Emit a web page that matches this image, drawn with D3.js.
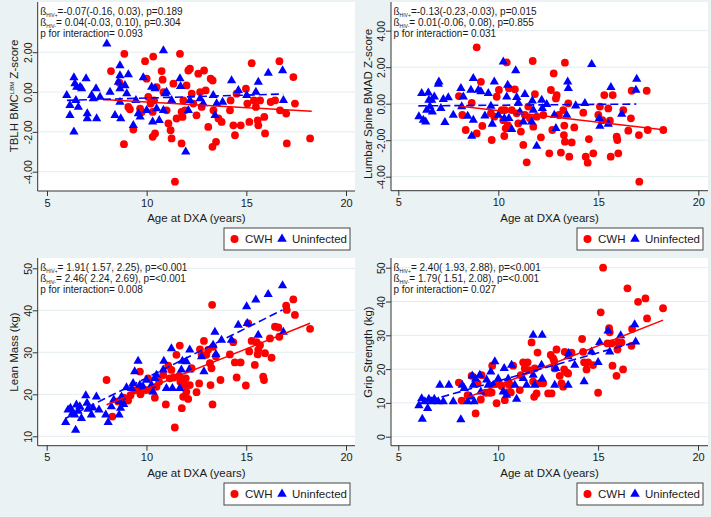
<!DOCTYPE html>
<html><head><meta charset="utf-8">
<script src="https://cdn.jsdelivr.net/npm/d3@7"></script>
<style>body{margin:0;background:#eaf2f3} svg{display:block} text{font-family:"Liberation Sans",Arial,sans-serif;fill:#1a1a1a}</style>
</head><body><svg id="c" width="711" height="517"></svg>
<script>
// ---------- DATA ----------
const xTicks = [5, 10, 15, 20];
const bmcTicks = [-4, -2, 0, 2];
const bmadTicks = [-4, -2, 0, 2, 4];
const leanTicks = [10, 20, 30, 40, 50];
const gripTicks = [0, 10, 20, 30, 40, 50];
const legendLabels = ["CWH", "Uninfected"];
const xTitle = "Age at DXA (years)";

// TBLH BMC Z-score
const bmcCWH = [[8.21,1.05],[8.88,1.92],[8.63,0.47],[9.08,-0.75],[9.16,-0.87],[8.86,-2.62],[9.33,-1.88],[9.67,-0.83],[9.75,-1.0],[9.92,1.55],[10.0,0.67],[10.08,-0.25],[10.2,-0.58],[10.3,-1.0],[10.33,1.78],[10.37,-0.42],[10.3,-2.25],[10.42,-2.08],[10.5,0.25],[10.75,1.05],[10.8,0.62],[10.84,0.0],[11.0,-0.92],[11.09,-1.58],[11.2,-1.92],[11.25,-2.33],[11.34,0.42],[11.42,-4.5],[11.5,-1.33],[11.67,1.92],[11.75,-2.58],[11.8,-1.25],[11.84,-0.42],[11.92,-0.92],[12.0,0.33],[12.09,1.08],[12.17,1.17],[12.26,-0.08],[12.34,-0.58],[12.5,-1.17],[12.59,0.92],[12.68,0.0],[12.76,-0.75],[12.88,1.08],[12.96,0.08],[13.09,-1.75],[13.21,0.67],[13.31,0.58],[13.3,-2.75],[13.35,-0.92],[13.48,-2.5],[13.6,-1.33],[13.76,-1.5],[14.18,-0.92],[14.21,-0.42],[14.35,-1.67],[14.43,-2.17],[14.51,-0.08],[14.72,-1.67],[14.98,0.17],[15.05,-0.58],[15.15,-1.5],[15.27,1.45],[15.38,-0.42],[15.48,-0.75],[15.57,-1.42],[15.6,-1.67],[15.69,-0.42],[15.9,-1.25],[15.94,-2.08],[16.22,-0.5],[16.44,-0.42],[16.66,1.55],[16.69,-0.92],[17.0,-1.08],[17.03,-2.58],[17.36,0.75],[17.44,-0.58],[18.2,-2.33],[11.75,-1.0]];
const bmcUninf = [[6.35,0.72],[6.4,0.42],[6.49,0.25],[5.99,-0.17],[6.15,-0.67],[6.15,-1.17],[6.35,-2.0],[6.45,-0.42],[6.57,-0.75],[6.66,0.25],[6.74,0.17],[6.96,0.67],[7.02,-1.08],[7.02,-1.33],[7.24,-0.17],[7.32,-0.33],[7.46,0.17],[7.49,-1.33],[7.66,-0.25],[8.0,2.42],[8.16,0.0],[8.41,-1.17],[8.58,0.5],[8.66,1.33],[8.66,0.83],[8.66,0.17],[8.66,-0.5],[8.7,-1.33],[8.91,0.33],[9.0,-0.08],[9.08,0.88],[9.33,-1.67],[9.46,-0.42],[9.58,-1.08],[9.67,-1.25],[9.83,0.72],[10.0,-0.92],[10.25,0.25],[10.3,-1.5],[10.42,0.17],[10.5,-0.83],[10.63,-1.42],[10.84,2.08],[10.84,-0.92],[10.92,-0.08],[11.0,0.0],[11.25,-0.42],[11.67,0.67],[11.7,0.28],[11.96,-3.0],[12.09,-0.92],[12.17,-0.42],[12.68,-0.33],[12.84,-0.58],[13.34,-0.17],[13.43,-1.17],[13.51,-0.58],[13.81,-0.5],[14.26,0.58],[14.6,0.08],[15.02,-0.17],[15.48,0.0],[15.6,0.5],[16.1,0.95],[16.82,1.08],[16.86,-0.42]];
const bmcFitCWH = [[7.8,-0.37],[18.28,-0.97]];
const bmcFitUninf = [[6.0,-0.42],[16.85,-0.1]];
const bmcNotes = [["=-0.07(-0.16, 0.03), p=0.189"],["= 0.04(-0.03, 0.10), p=0.304"],["p for interaction= 0.093"]];

// Lumbar spine BMAD Z-score
const bmadCWH = [[8.03,0.42],[8.2,-0.62],[8.37,-1.44],[8.67,0.05],[8.92,3.09],[8.92,-1.63],[9.13,1.2],[9.2,-1.22],[9.63,-0.53],[9.67,-1.99],[9.8,-0.71],[9.92,0.38],[10.03,0.75],[10.17,-0.35],[10.25,-0.9],[10.33,-0.35],[10.3,-1.77],[10.37,-1.35],[10.42,2.26],[10.47,-1.17],[10.53,0.84],[10.67,-0.35],[10.83,0.79],[10.92,-0.53],[11.0,-1.08],[11.13,-1.53],[11.25,-2.26],[11.33,-0.62],[11.42,-3.21],[11.5,-0.16],[11.58,-0.8],[11.72,2.34],[11.75,-1.26],[11.83,0.53],[11.92,-0.71],[12.13,-1.84],[12.25,-0.62],[12.55,-2.72],[12.63,0.75],[12.7,-1.44],[12.77,1.66],[12.88,0.29],[12.92,0.47],[13.03,-0.62],[13.13,-2.68],[13.25,-0.35],[13.28,-1.72],[13.3,-1.2],[13.33,2.25],[13.33,-2.08],[13.5,0.02],[13.55,-2.9],[13.67,-2.12],[13.8,-1.3],[14.25,-0.49],[14.37,-2.9],[14.47,-3.23],[14.53,-1.94],[14.75,-2.72],[15.0,-0.62],[15.08,-0.16],[15.2,-0.9],[15.3,0.47],[15.5,-0.26],[15.58,-0.93],[15.62,-2.9],[15.72,0.47],[15.92,-1.81],[15.95,-1.99],[16.0,-2.72],[16.25,-0.35],[16.5,-1.48],[16.63,-0.8],[16.67,0.71],[17.03,-1.72],[17.05,-4.27],[17.42,0.71],[17.47,-1.44],[18.25,-1.44]];
const bmadUninf = [[6.03,-0.71],[6.17,0.57],[6.25,-0.9],[6.37,-0.99],[6.42,-0.35],[6.5,0.6],[6.53,0.2],[6.58,-0.16],[6.67,0.2],[6.7,-0.44],[6.8,0.38],[7.0,1.08],[7.03,1.2],[7.13,-0.26],[7.25,0.24],[7.33,-1.02],[7.5,0.33],[7.75,-0.62],[8.13,0.84],[8.17,-0.16],[8.25,0.38],[8.47,-0.68],[8.63,0.75],[8.67,-1.77],[8.75,1.39],[8.75,-0.9],[9.0,0.75],[9.13,0.66],[9.33,-0.66],[9.5,0.57],[9.63,-0.13],[9.7,-1.11],[9.8,1.2],[10.0,-0.62],[10.25,2.3],[10.3,-0.8],[10.42,0.38],[10.47,1.02],[10.53,-0.8],[10.67,-1.41],[10.87,1.81],[10.92,0.35],[11.0,0.05],[11.08,-0.44],[11.25,-0.99],[11.33,0.51],[11.67,-0.99],[11.7,0.16],[11.75,-0.35],[11.92,-2.32],[12.17,0.2],[12.2,-0.26],[12.42,-0.04],[12.8,-0.62],[12.88,-1.35],[13.42,-0.62],[13.47,1.2],[13.5,0.84],[13.87,-0.11],[14.33,0.02],[14.67,2.16],[15.05,-0.8],[15.08,-1.22],[15.5,-1.11],[15.63,0.9],[16.17,-0.57],[16.92,1.35],[16.88,0.75]];
const bmadFitCWH = [[8.0,-0.12],[18.25,-1.43]];
const bmadFitUninf = [[6.0,-0.12],[16.9,-0.02]];
const bmadNotes = [["=-0.13(-0.23,-0.03), p=0.015"],["= 0.01(-0.06, 0.08), p=0.855"],["p for interaction= 0.031"]];

// Lean mass (kg)
const leanCWH = [[8.0,23.4],[8.29,14.7],[8.58,18.3],[8.86,19.2],[9.08,18.5],[9.2,19.8],[9.41,21.0],[9.63,21.4],[9.67,25.4],[9.7,20.0],[9.97,21.0],[10.08,23.8],[10.2,21.0],[10.42,19.2],[10.5,21.8],[10.63,23.0],[10.84,24.6],[10.97,17.6],[11.09,26.8],[11.17,23.8],[11.25,25.8],[11.37,24.0],[11.42,12.1],[11.5,29.4],[11.64,24.4],[11.67,31.6],[11.7,23.0],[11.77,16.7],[11.84,19.4],[11.92,22.2],[11.97,23.8],[12.0,20.6],[12.09,18.9],[12.17,22.2],[12.26,26.2],[12.51,20.5],[12.64,22.6],[12.68,30.7],[12.76,29.4],[12.88,32.7],[13.0,29.4],[13.09,30.6],[13.18,27.4],[13.21,22.2],[13.26,26.2],[13.29,41.3],[13.31,17.6],[13.34,31.3],[13.48,29.0],[13.71,23.4],[14.18,29.5],[14.35,32.4],[14.43,27.6],[14.52,24.0],[14.72,27.6],[14.98,22.1],[15.1,36.9],[15.15,30.2],[15.27,32.7],[15.43,27.0],[15.52,32.4],[15.57,29.5],[15.6,30.6],[15.69,31.7],[15.85,24.2],[15.89,23.4],[15.94,29.8],[16.19,33.3],[16.27,28.7],[16.44,36.1],[16.61,35.9],[16.66,33.7],[17.0,41.1],[17.03,40.1],[17.36,42.6],[17.44,38.9],[18.2,35.6]];
const leanUninf = [[5.95,13.3],[6.07,16.3],[6.19,16.7],[6.29,15.5],[6.4,15.1],[6.45,11.5],[6.49,17.5],[6.57,16.0],[6.66,17.1],[6.74,14.3],[6.96,19.7],[7.02,17.9],[7.07,16.5],[7.24,15.1],[7.32,16.8],[7.49,19.4],[7.62,16.3],[7.96,15.1],[8.08,13.3],[8.24,17.1],[8.36,18.7],[8.63,15.1],[8.66,18.3],[8.7,16.7],[8.75,19.4],[8.86,17.6],[9.0,21.6],[9.25,21.4],[9.33,22.6],[9.41,25.4],[9.58,27.9],[9.67,22.2],[9.83,21.8],[10.0,23.4],[10.25,22.2],[10.33,20.6],[10.42,23.8],[10.5,24.6],[10.84,25.8],[10.87,27.9],[11.0,21.4],[11.25,30.9],[11.3,21.4],[11.67,21.4],[11.75,25.8],[11.8,27.9],[12.0,27.8],[12.14,25.8],[12.17,30.6],[12.76,29.0],[12.88,25.4],[13.34,31.7],[13.43,34.8],[13.48,29.5],[13.76,32.9],[14.26,32.9],[14.6,36.5],[15.02,40.9],[15.05,36.9],[15.48,42.5],[15.6,34.1],[16.1,43.8],[16.82,45.9],[16.86,34.8]];
const leanFitCWH = [[8.0,17.5],[18.2,36.9]];
const leanFitUninf = [[5.95,14.3],[16.82,40.1]];
const leanNotes = [["= 1.91( 1.57, 2.25), p=<0.001"],["= 2.46( 2.24, 2.69), p=<0.001"],["p for interaction= 0.008"]];

// Grip strength (kg)
const gripCWH = [[8.03,16.0],[8.17,10.7],[8.47,12.3],[8.67,18.0],[8.87,6.9],[8.97,15.8],[9.13,11.0],[9.17,18.2],[9.37,13.0],[9.58,13.0],[9.7,21.0],[9.67,13.1],[9.92,9.9],[10.0,15.8],[10.17,15.0],[10.33,10.8],[10.42,13.1],[10.53,15.5],[10.58,15.3],[10.63,13.1],[10.75,21.0],[11.08,13.8],[11.13,18.2],[11.25,22.0],[11.33,20.2],[11.47,22.0],[11.53,19.7],[11.67,27.9],[11.75,16.3],[11.8,11.8],[11.83,20.2],[11.92,12.8],[11.97,24.9],[12.08,15.8],[12.25,15.8],[12.5,12.8],[12.63,24.2],[12.67,12.8],[12.75,23.2],[12.8,22.4],[12.83,20.2],[12.92,25.8],[13.08,18.0],[13.17,15.8],[13.25,14.8],[13.3,19.9],[13.33,25.1],[13.42,19.0],[13.5,18.7],[13.67,24.9],[14.2,28.9],[14.25,25.1],[14.3,22.0],[14.42,19.9],[14.5,22.0],[14.75,21.2],[15.0,13.0],[15.13,36.8],[15.25,50.0],[15.47,27.6],[15.55,32.1],[15.58,30.9],[15.67,27.6],[15.72,21.0],[15.92,18.0],[15.97,25.8],[16.0,27.9],[16.17,27.9],[16.25,19.9],[16.47,43.9],[16.67,26.9],[16.7,31.9],[17.0,39.9],[17.37,40.9],[17.45,35.0],[18.25,38.0]];
const gripUninf = [[6.03,9.2],[6.17,11.3],[6.2,5.2],[6.33,10.4],[6.47,8.4],[6.53,11.1],[6.67,10.4],[6.8,11.1],[7.0,10.4],[7.08,15.3],[7.25,10.4],[7.53,15.3],[7.75,10.4],[8.13,5.1],[8.2,15.3],[8.3,14.3],[8.47,10.4],[8.63,11.8],[8.7,18.0],[8.75,15.3],[8.8,10.4],[8.87,17.1],[9.08,18.2],[9.13,13.3],[9.42,16.8],[9.5,15.3],[9.63,19.2],[9.75,15.3],[9.83,22.2],[10.0,17.1],[10.25,13.3],[10.3,20.2],[10.42,12.3],[10.5,17.1],[10.67,21.2],[10.83,15.3],[10.92,11.1],[11.25,17.3],[11.42,15.3],[11.75,30.1],[11.75,18.2],[11.83,15.3],[12.17,21.2],[12.2,30.1],[12.2,17.1],[12.83,15.3],[12.88,20.2],[13.5,15.3],[13.5,23.7],[13.53,24.7],[13.83,21.2],[14.3,16.3],[14.67,25.1],[15.0,22.0],[15.08,27.9],[15.5,31.3],[15.58,25.1],[16.13,29.9],[16.83,33.2],[16.88,28.1]];
const gripFitCWH = [[8.03,10.6],[18.25,34.5]];
const gripFitUninf = [[6.0,9.8],[16.9,28.0]];
const gripNotes = [["= 2.40( 1.93, 2.88), p=<0.001"],["= 1.79( 1.51, 2.08), p=<0.001"],["p for interaction= 0.027"]];

// ---------- LAYOUT ----------
const panels = [
  {cwh:bmcCWH, un:bmcUninf, fc:bmcFitCWH, fu:bmcFitUninf, notes:bmcNotes, ticks:bmcTicks, fmt:v=>v.toFixed(2),
   title:["TBLH BMC","LBM"," Z-score"], tcy:96, x5:47, x20:346, yd:[-4,2], yr:[171.7,52.2], left:37.7, right:355, top:2, bottom:191, lx:224, ly:228},
  {cwh:bmadCWH, un:bmadUninf, fc:bmadFitCWH, fu:bmadFitUninf, notes:bmadNotes, ticks:bmadTicks, fmt:v=>v.toFixed(2),
   title:["Lumbar Spine BMAD Z-score"], tcy:104, x5:398.3, x20:698.3, yd:[-4,4], yr:[176.7,30.7], left:391, right:708, top:2, bottom:190.7, lx:577, ly:228},
  {cwh:leanCWH, un:leanUninf, fc:leanFitCWH, fu:leanFitUninf, notes:leanNotes, ticks:leanTicks, fmt:v=>String(v),
   title:["Lean Mass (kg)"], tcy:352, x5:46.7, x20:346, yd:[10,50], yr:[436.3,268.3], left:37.7, right:355, top:258, bottom:445.7, lx:224, ly:483},
  {cwh:gripCWH, un:gripUninf, fc:gripFitCWH, fu:gripFitUninf, notes:gripNotes, ticks:gripTicks, fmt:v=>String(v),
   title:["Grip Strength (kg)"], tcy:352, x5:398.3, x20:698, yd:[0,50], yr:[436.7,267.7], left:391, right:708, top:258, bottom:445.7, lx:577, ly:483}
];
const subs = ["HIV+","HIV-"];
const RED = "#ff0000", BLUE = "#0000ff";

const svg = d3.select("#c");
svg.append("rect").attr("width",711).attr("height",517).attr("fill","#eaf2f3");
const tri = d3.symbol().type(d3.symbolTriangle).size(37);

panels.forEach(p => {
  const g = svg.append("g");
  const x = d3.scaleLinear().domain([5,20]).range([p.x5,p.x20]);
  const y = d3.scaleLinear().domain(p.yd).range(p.yr);
  g.append("rect").attr("x",p.left).attr("y",p.top).attr("width",p.right-p.left).attr("height",p.bottom-p.top).attr("fill","#fff");
  // grid
  g.selectAll(".grid").data(p.ticks).join("line")
    .attr("x1",p.left).attr("x2",p.right).attr("y1",d=>y(d)).attr("y2",d=>y(d))
    .attr("stroke","#e3edef").attr("stroke-width",1);
  // y axis
  const ya = g.append("g").attr("transform",`translate(${p.left},0)`)
    .call(d3.axisLeft(y).tickValues(p.ticks).tickSize(5).tickFormat(p.fmt));
  ya.select(".domain").remove();
  ya.selectAll(".tick line").attr("stroke","#333");
  ya.selectAll(".tick text").attr("transform","rotate(-90)").attr("x",0).attr("y",-6).attr("dy",0)
    .attr("text-anchor","middle").style("font-size","10.5px").style("font-family","'Liberation Sans',Arial,sans-serif").attr("fill","#1a1a1a");
  // x axis
  const xa = g.append("g").attr("transform",`translate(0,${p.bottom})`)
    .call(d3.axisBottom(x).tickValues(xTicks).tickSize(5).tickFormat(d=>String(d)));
  xa.select(".domain").remove();
  xa.selectAll(".tick line").attr("stroke","#333");
  xa.selectAll(".tick text").attr("y",8).style("font-size","11px").style("font-family","'Liberation Sans',Arial,sans-serif").attr("fill","#1a1a1a");
  // axis lines
  g.append("line").attr("x1",p.left).attr("x2",p.left).attr("y1",p.top).attr("y2",p.bottom).attr("stroke","#333");
  g.append("line").attr("x1",p.left).attr("x2",p.right).attr("y1",p.bottom).attr("y2",p.bottom).attr("stroke","#333");
  // titles
  g.append("text").attr("x",(p.left+p.right)/2).attr("y",p.bottom+31).attr("text-anchor","middle").style("font-size","11.5px").text(xTitle);
  const yt = g.append("text").attr("transform",`translate(${p.left-19.5},${p.tcy}) rotate(-90)`).attr("text-anchor","middle").style("font-size","11.5px");
  yt.append("tspan").text(p.title[0]);
  if (p.title.length>1){
    yt.append("tspan").attr("dy",-4).style("font-size","6px").text(p.title[1]);
    yt.append("tspan").attr("dy",4).text(p.title[2]);
  }
  // points
  g.selectAll(".cwh").data(p.cwh).join("circle")
    .attr("cx",d=>x(d[0])).attr("cy",d=>y(d[1])).attr("r",3.9).attr("fill",RED);
  g.selectAll(".un").data(p.un).join("path")
    .attr("d",tri).attr("transform",d=>`translate(${x(d[0])},${y(d[1])})`).attr("fill",BLUE);
  // fits
  const ln = d3.line().x(d=>x(d[0])).y(d=>y(d[1]));
  g.append("path").attr("d",ln(p.fc)).attr("stroke",RED).attr("stroke-width",1.5).attr("fill","none");
  g.append("path").attr("d",ln(p.fu)).attr("stroke",BLUE).attr("stroke-width",1.6).attr("fill","none").attr("stroke-dasharray","8,4");
  // notes
  p.notes.forEach((n,i) => {
    const t = g.append("text").attr("x",p.left+2.5).attr("y",p.top+13+i*11).style("font-size","10px");
    if (i<2){
      t.append("tspan").text("ß");
      t.append("tspan").attr("dy",1.5).style("font-size","5px").text(subs[i]);
      t.append("tspan").attr("dy",-1.5).text(n[0]);
    } else t.text(n[0]);
  });
  // legend
  const lg = g.append("g").attr("transform",`translate(${p.lx},${p.ly})`);
  lg.append("rect").attr("x",0).attr("y",0).attr("width",126).attr("height",22).attr("fill","#fff").attr("stroke","#444").attr("stroke-width",1);
  lg.append("circle").attr("cx",10.5).attr("cy",11).attr("r",4).attr("fill",RED);
  lg.append("text").attr("x",21).attr("y",15).style("font-size","11.5px").text(legendLabels[0]);
  lg.append("path").attr("d",d3.symbol().type(d3.symbolTriangle).size(40)()).attr("transform","translate(58,11)").attr("fill",BLUE);
  lg.append("text").attr("x",68).attr("y",15).style("font-size","11.5px").text(legendLabels[1]);
});
</script></body></html>
